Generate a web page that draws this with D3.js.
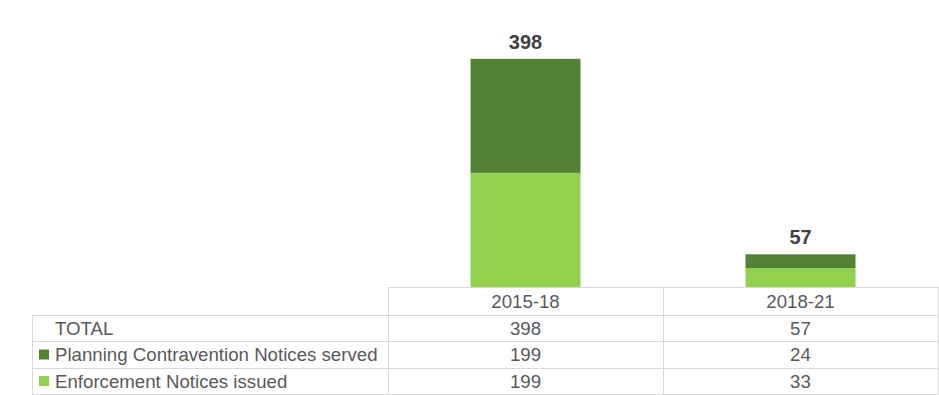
<!DOCTYPE html>
<html>
<head>
<meta charset="utf-8">
<script src="https://cdn.jsdelivr.net/npm/d3@7/dist/d3.min.js"></script>
<style>
  html, body { margin: 0; padding: 0; background: #fff; }
  svg { display: block; font-family: "Liberation Sans", Arial, sans-serif; }
</style>
</head>
<body>
<svg id="chart" width="939" height="395"></svg>
<script>
const categories = ["2015-18", "2018-21"];
const seriesNames = ["Planning Contravention Notices served", "Enforcement Notices issued"];
const planningValues = [199, 24];
const enforcementValues = [199, 33];
const totals = [398, 57];
const totalLabel = "TOTAL";

const colors = { planning: "#548235", enforcement: "#92D050" };
const gridColor = "#d9d9d9";
const textColor = "#595959";

const svg = d3.select("#chart");

const tableLeft = 388, tableRight = 938;
const outerLeft = 32;
const baseline = 287;
const rowBounds = [287, 315, 341, 368, 394];

const x = d3.scaleBand().domain(categories).range([tableLeft, tableRight]).paddingInner(0.6).paddingOuter(0.3);
const col = d3.scaleBand().domain(categories).range([tableLeft, tableRight]).padding(0);
const y = d3.scaleLinear().domain([0, 450]).range([baseline, 29]);

const data = categories.map((c, i) => ({ cat: c, enforcement: enforcementValues[i], planning: planningValues[i], total: totals[i] }));
const stack = d3.stack().keys(["enforcement", "planning"]);
const stacked = stack(data);

svg.append("g").selectAll("g").data(stacked).join("g")
  .attr("fill", d => colors[d.key])
  .selectAll("rect").data(d => d).join("rect")
  .attr("x", d => x(d.data.cat))
  .attr("width", x.bandwidth())
  .attr("y", d => y(d[1]))
  .attr("height", d => y(d[0]) - y(d[1]));

svg.append("g").selectAll("text").data(data).join("text")
  .attr("x", d => x(d.cat) + x.bandwidth() / 2)
  .attr("y", d => y(d.total) - 10)
  .attr("text-anchor", "middle")
  .attr("font-size", 20)
  .attr("font-weight", "bold")
  .attr("fill", "#404040")
  .text(d => d.total);

// table grid
const g = svg.append("g").attr("stroke", gridColor).attr("stroke-width", 1).attr("fill", "none").attr("shape-rendering", "crispEdges");
g.append("line").attr("x1", tableLeft).attr("x2", tableRight).attr("y1", rowBounds[0] + 0.5).attr("y2", rowBounds[0] + 0.5);
rowBounds.slice(1).forEach(yy => {
  g.append("line").attr("x1", outerLeft).attr("x2", tableRight).attr("y1", yy + 0.5).attr("y2", yy + 0.5);
});
g.append("line").attr("x1", outerLeft + 0.5).attr("x2", outerLeft + 0.5).attr("y1", rowBounds[1]).attr("y2", rowBounds[4]);
const vx = [tableLeft, col(categories[1]), tableRight];
vx.forEach(xx => {
  g.append("line").attr("x1", xx + 0.5).attr("x2", xx + 0.5).attr("y1", rowBounds[0]).attr("y2", rowBounds[4]);
});

const rowMid = i => (rowBounds[i] + rowBounds[i + 1]) / 2;
const t = svg.append("g").attr("font-size", 18.67).attr("fill", textColor);

categories.forEach(c => {
  t.append("text").attr("x", col(c) + col.bandwidth() / 2).attr("y", rowMid(0)).attr("dy", "0.35em")
    .attr("text-anchor", "middle").text(c);
});

const rows = [
  { label: totalLabel, values: totals, color: null },
  { label: seriesNames[0], values: planningValues, color: colors.planning },
  { label: seriesNames[1], values: enforcementValues, color: colors.enforcement }
];
rows.forEach((r, i) => {
  const ym = rowMid(i + 1);
  if (r.color) {
    svg.append("rect").attr("x", 39).attr("y", ym - 5).attr("width", 10).attr("height", 10).attr("fill", r.color);
  }
  t.append("text").attr("x", 55).attr("y", ym).attr("dy", "0.35em").text(r.label);
  r.values.forEach((v, j) => {
    t.append("text").attr("x", col(categories[j]) + col.bandwidth() / 2).attr("y", ym).attr("dy", "0.35em")
      .attr("text-anchor", "middle").text(v);
  });
});
</script>
</body>
</html>
